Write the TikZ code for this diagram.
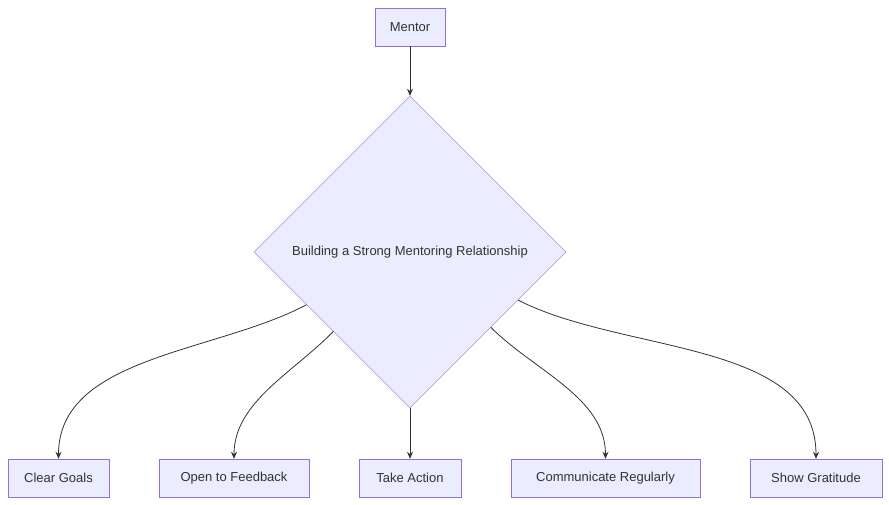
\documentclass[tikz,border=0pt]{standalone}
\usepackage{fontspec}
\setmainfont{Liberation Sans}
\usetikzlibrary{shapes.geometric,arrows.meta}
\definecolor{boxfill}{HTML}{ECECFF}
\definecolor{boxline}{HTML}{9370DB}
\definecolor{linkcol}{HTML}{333333}
\begin{document}
\begin{tikzpicture} [
                x=1pt, y=-1pt,
                font=\fontsize{13}{15}\selectfont,
                box/.style={rectangle,draw=boxline,fill=boxfill,minimum height=38pt,inner sep=0pt,text=linkcol},
                choice/.style={diamond,draw=boxline,fill=boxfill,minimum width=312pt,minimum height=312pt,inner sep=0pt,text=linkcol},
                link/.style={draw=linkcol,thick,-{Stealth[length=7pt,width=6pt]}}
            ]
        \useasboundingbox (0,0) rectangle (889,505);
        % the nodes
            \node[box,minimum width=70pt] (mentor) at (410,27) {Mentor};
            \node[choice] (build) at (410,252) {Building a Strong Mentoring Relationship};
            \foreach \pos/\name/\bw/\txt in {
                {58.5/goals/101/Clear Goals},
                {234/feedback/150/Open to Feedback},
                {410/action/102/Take Action},
                {605.5/talk/189/Communicate Regularly},
            {816/thanks/132/Show Gratitude}}
            \node[box,minimum width=\bw pt] (\name) at (\pos,478) {\txt};
        % connect them
            \path[link] (mentor) -- (build);
            \path[link] (build.207.7) to[out=208,in=90,looseness=0.9] (goals.north);
            \path[link] (build.226) to[out=226,in=90,looseness=0.9] (feedback.north);
            \path[link] (build) -- (action);
            \path[link] (build.317) to[out=-45,in=90,looseness=0.9] (talk.north);
            \path[link] (build.336) to[out=-27,in=90,looseness=0.9] (thanks.north);
        \end{tikzpicture}
\end{document}
